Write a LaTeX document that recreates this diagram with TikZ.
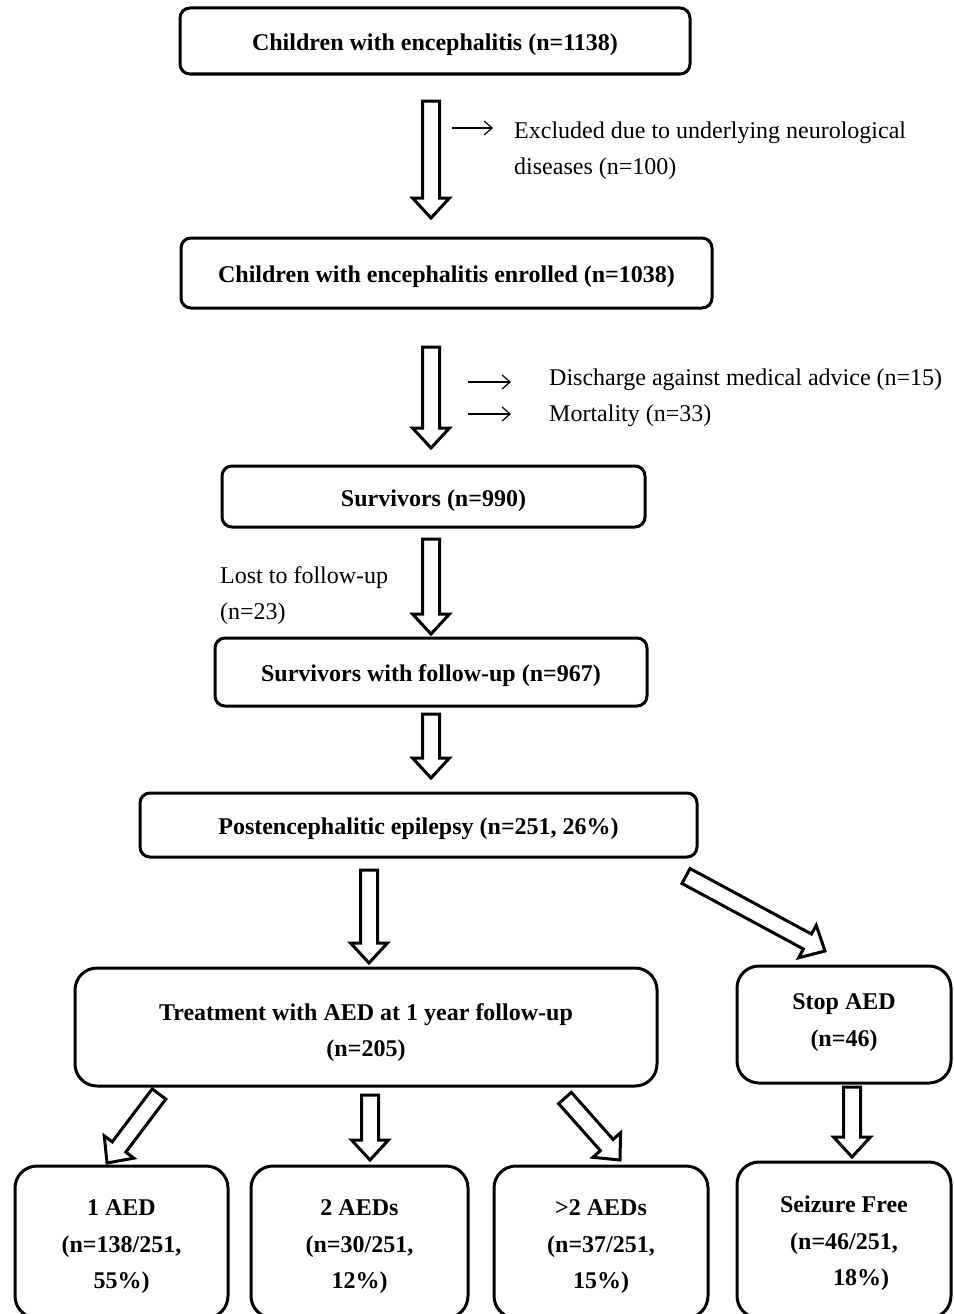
\documentclass[tikz,border=0pt]{standalone}
\usepackage{fontspec}
\setmainfont{Liberation Serif}
\usetikzlibrary{calc,arrows.meta}

\newcommand{\blockarrow}[2]{%
  \draw[hollow] let \p1=(#1), \p2=(#2),
      \n1={atan2(\y2-\y1,\x2-\x1)}, \n2={veclen(\x2-\x1,\y2-\y1)} in
      [shift={(\p1)}, rotate=\n1]
      (0,-8.5) -- (\n2-20,-8.5) -- (\n2-20,-18.5) -- (\n2,0)
      -- (\n2-20,18.5) -- (\n2-20,8.5) -- (0,8.5) -- cycle;
}

\begin{document}
\begin{tikzpicture}[
            x=1pt, y=-1pt,
            font=\fontsize{24}{36}\selectfont,
            stylebox/.style={draw, line width=3pt, rounded corners=10pt, inner sep=0pt, align=center, font=\fontsize{24}{36.5}\selectfont\bfseries, text height=23pt, text depth=4pt},
            bigbox/.style={stylebox, rounded corners=22pt},
            textlow/.style={text height=#1, text depth=4pt},
            stylenote/.style={inner sep=0pt, anchor=west, align=left},
            thinarrow/.style={-{Straight Barb[length=8pt,width=14pt]}, line width=1.2pt},
            hollow/.style={draw, fill=white, line width=3pt, line join=miter}
        ]
        \clip (0,0) rectangle (953,1314);

        %Boxes
        \node[stylebox, minimum width=510pt, minimum height=66pt] (children) at (435,41) {Children with encephalitis (n=1138)};
        \node[stylebox, minimum width=531pt, minimum height=70pt] (enrolled) at (446.5,273) {Children with encephalitis enrolled (n=1038)};
        \node[stylebox, minimum width=423pt, minimum height=61pt] (survivors) at (433.5,496.5) {Survivors (n=990)};
        \node[stylebox, minimum width=432pt, minimum height=68pt] (followup) at (431,672) {Survivors with follow-up (n=967)};
        \node[stylebox, minimum width=557pt, minimum height=64pt] (epilepsy) at (418.5,825) {Postencephalitic epilepsy (n=251, 26\%)};

        \node[bigbox, textlow=63pt, minimum width=582pt, minimum height=118pt] (treatment) at (366,1027) {Treatment with AED at 1 year follow-up\\(n=205)};
        \node[bigbox, textlow=47pt, minimum width=214pt, minimum height=117pt] (stopaed) at (844,1024.5) {Stop AED\\(n=46)};

        \node[bigbox, textlow=97.5pt, minimum width=213pt, minimum height=152pt] (oneaed) at (121.5,1242) {1 AED\\(n=138/251,\\55\%)};
        \node[bigbox, textlow=97.5pt, minimum width=217pt, minimum height=152pt] (twoaed) at (359.5,1242) {2 AEDs\\(n=30/251,\\12\%)};
        \node[bigbox, textlow=97.5pt, minimum width=214pt, minimum height=152pt] (moreaed) at (601,1242) {>2 AEDs\\(n=37/251,\\15\%)};
        \node[bigbox, textlow=95.5pt, minimum width=214pt, minimum height=156pt] (seizurefree) at (844,1240) {Seizure Free\\(n=46/251,\\\hspace*{34pt}18\%)};

        %Notes
        \node[stylenote] (excluded) at (514,151) {Excluded due to underlying neurological\\diseases (n=100)};
        \node[stylenote] (discharge) at (549,398) {Discharge against medical advice (n=15)\\Mortality (n=33)};
        \node[stylenote] (lost) at (220,596) {Lost to follow-up\\(n=23)};

        \coordinate (n1s) at (452,128);
        \coordinate (n1e) at (493,128);
        \coordinate (n2s) at (468,382);
        \coordinate (n2e) at (511,382);
        \coordinate (n3s) at (468,414);
        \coordinate (n3e) at (511,414);
        \draw[thinarrow] (n1s) -- (n1e);
        \draw[thinarrow] (n2s) -- (n2e);
        \draw[thinarrow] (n3s) -- (n3e);

        %Hollow arrows
        \coordinate (a1s) at (431,101);
        \coordinate (a1e) at (431,218);
        \coordinate (a2s) at (431,347);
        \coordinate (a2e) at (431,448);
        \coordinate (a3s) at (431,539);
        \coordinate (a3e) at (431,634);
        \coordinate (a4s) at (431,714);
        \coordinate (a4e) at (431,778);
        \coordinate (a5s) at (369,870);
        \coordinate (a5e) at (369,963);
        \coordinate (a6s) at (686,876);
        \coordinate (a6e) at (825,951);
        \coordinate (a7s) at (159,1094);
        \coordinate (a7e) at (107,1163);
        \coordinate (a8s) at (370,1095);
        \coordinate (a8e) at (370,1160);
        \coordinate (a9s) at (565,1098);
        \coordinate (a9e) at (620,1160);
        \coordinate (a10s) at (852,1087);
        \coordinate (a10e) at (852,1157);

        \foreach \i in {1,...,10}
            \blockarrow{a\i s}{a\i e};
    \end{tikzpicture}
\end{document}
